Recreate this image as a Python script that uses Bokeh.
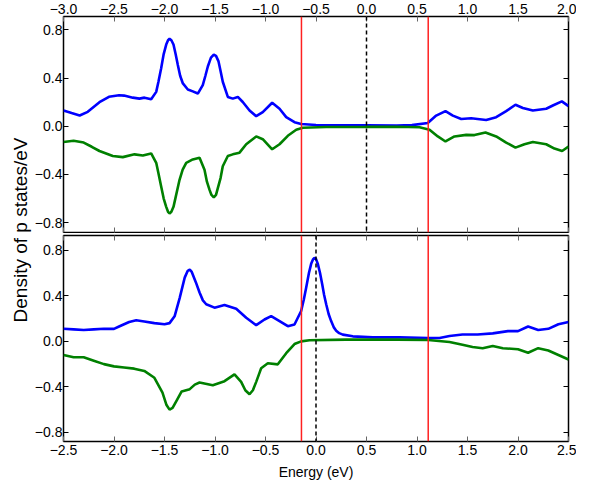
import numpy as np
from bokeh.plotting import figure
from bokeh.models import Range1d, LinearAxis, Span, CustomJSTickFormatter, FixedTicker, Div
from bokeh.layouts import row, column
from bokeh.embed import file_html
from bokeh.resources import INLINE

# ---------------- data ----------------
x_ticks_top = [-3.0, -2.5, -2.0, -1.5, -1.0, -0.5, 0.0, 0.5, 1.0, 1.5, 2.0]
x_ticks_bottom = [-2.5, -2.0, -1.5, -1.0, -0.5, 0.0, 0.5, 1.0, 1.5, 2.0, 2.5]
y_ticks = [-0.8, -0.4, 0.0, 0.4, 0.8]

top_fermi = 0.0
bottom_fermi = 0.0
top_gap_edges = [-0.644, 0.611]
bottom_gap_edges = [-0.144, 1.111]

y_label = "Density of p states/eV"
x_label = "Energy (eV)"

# top panel (energy on the top-axis scale)
top_up_x = [-3.00, -2.92, -2.84, -2.76, -2.644, -2.55, -2.45, -2.40, -2.314, -2.248, -2.198,
            -2.132, -2.082, -2.06, -2.033, -2.008, -1.983, -1.965, -1.950, -1.932, -1.911,
            -1.89, -1.868, -1.845, -1.818, -1.769, -1.720, -1.670, -1.621, -1.595, -1.571,
            -1.54, -1.512, -1.49, -1.465, -1.445, -1.423, -1.373, -1.324, -1.274, -1.225,
            -1.158, -1.092, -1.027, -0.934, -0.861, -0.795, -0.713, -0.647, -0.50, -0.30,
            0.0, 0.30, 0.45, 0.607, 0.690, 0.782, 0.855, 0.938, 1.036, 1.185, 1.284, 1.383,
            1.475, 1.548, 1.647, 1.779, 1.845, 1.934, 2.0]
top_up = [0.131, 0.11, 0.09, 0.12, 0.20, 0.245, 0.258, 0.255, 0.238, 0.23, 0.238,
          0.224, 0.286, 0.37, 0.482, 0.60, 0.679, 0.715, 0.727, 0.715, 0.679,
          0.60, 0.51, 0.42, 0.356, 0.306, 0.29, 0.272, 0.342, 0.42, 0.497,
          0.57, 0.595, 0.585, 0.539, 0.46, 0.37, 0.244, 0.23, 0.244, 0.202,
          0.131, 0.084, 0.118, 0.196, 0.146, 0.076, 0.034, 0.019, 0.011, 0.009,
          0.008, 0.007, 0.01, 0.028, 0.089, 0.126, 0.089, 0.061, 0.067, 0.053, 0.076, 0.126,
          0.179, 0.152, 0.131, 0.146, 0.173, 0.207, 0.168]

top_dn_x = [-3.00, -2.90, -2.80, -2.72, -2.644, -2.512, -2.413, -2.297, -2.215, -2.132, -2.082,
            -2.06, -2.033, -2.008, -1.983, -1.965, -1.950, -1.932, -1.911, -1.89, -1.851,
            -1.82, -1.785, -1.720, -1.653, -1.604, -1.58, -1.554, -1.535, -1.512, -1.49,
            -1.472, -1.445, -1.423, -1.373, -1.324, -1.257, -1.191, -1.092, -1.027, -0.934,
            -0.861, -0.779, -0.696, -0.630, -0.40, 0.0, 0.30, 0.525, 0.624, 0.706, 0.782,
            0.871, 0.987, 1.069, 1.178, 1.284, 1.383, 1.475, 1.564, 1.647, 1.779, 1.861,
            1.937, 2.0]
top_dn = [-0.13, -0.12, -0.135, -0.17, -0.205, -0.247, -0.256, -0.233, -0.242, -0.225, -0.303,
          -0.39, -0.50, -0.60, -0.669, -0.71, -0.724, -0.71, -0.669, -0.59, -0.444,
          -0.36, -0.303, -0.275, -0.261, -0.36, -0.46, -0.528, -0.57, -0.59, -0.57,
          -0.514, -0.43, -0.332, -0.247, -0.233, -0.219, -0.149, -0.084, -0.107, -0.191,
          -0.149, -0.079, -0.029, -0.012, -0.006, -0.005, -0.004, -0.008, -0.028, -0.084, -0.126,
          -0.084, -0.071, -0.073, -0.051, -0.084, -0.135, -0.177, -0.149, -0.13, -0.149, -0.185,
          -0.205, -0.168]

# bottom panel
bot_up_x = [-2.5, -2.4, -2.3, -2.2, -2.1, -2.0, -1.95, -1.85, -1.78, -1.7, -1.6, -1.5, -1.45,
            -1.40, -1.35, -1.30, -1.27, -1.25, -1.23, -1.19, -1.153, -1.12, -1.087, -1.005,
            -0.906, -0.790, -0.691, -0.592, -0.510, -0.444, -0.361, -0.279, -0.213, -0.147,
            -0.12, -0.097, -0.07, -0.048, -0.03, -0.015, 0.0, 0.018, 0.04, 0.061, 0.08, 0.101,
            0.125, 0.150, 0.175, 0.200, 0.23, 0.265, 0.364, 0.562, 0.827, 1.111, 1.223, 1.322,
            1.45, 1.6, 1.75, 1.9, 2.0, 2.1, 2.2, 2.3, 2.4, 2.5]
bot_up = [0.11, 0.105, 0.10, 0.105, 0.11, 0.11, 0.13, 0.17, 0.185, 0.175, 0.16, 0.15, 0.16,
          0.22, 0.38, 0.56, 0.62, 0.63, 0.61, 0.52, 0.429, 0.36, 0.326, 0.296,
          0.32, 0.287, 0.207, 0.142, 0.192, 0.222, 0.178, 0.133, 0.148, 0.267,
          0.37, 0.474, 0.60, 0.681, 0.72, 0.734, 0.725, 0.681, 0.60, 0.503, 0.41, 0.326,
          0.24, 0.178, 0.125, 0.094, 0.072, 0.059, 0.044, 0.035, 0.035, 0.03, 0.03, 0.047,
          0.06, 0.06, 0.07, 0.09, 0.09, 0.13, 0.10, 0.11, 0.15, 0.17]

bot_dn_x = [-2.5, -2.4, -2.3, -2.2, -2.1, -2.0, -1.9, -1.8, -1.7, -1.6, -1.52, -1.48, -1.45,
            -1.42, -1.38, -1.33, -1.25, -1.2, -1.153, -1.022, -0.906, -0.807, -0.741, -0.70,
            -0.658, -0.625, -0.592, -0.565, -0.543, -0.477, -0.378, -0.295, -0.213, -0.147,
            -0.065, 0.3, 0.8, 1.111, 1.322, 1.45, 1.55, 1.65, 1.75, 1.85, 2.0, 2.1, 2.2,
            2.3, 2.4, 2.5]
bot_dn = [-0.12, -0.14, -0.14, -0.17, -0.20, -0.22, -0.23, -0.24, -0.26, -0.32, -0.45, -0.56, -0.60,
          -0.585, -0.52, -0.44, -0.42, -0.38, -0.362, -0.385, -0.35, -0.29, -0.356, -0.43,
          -0.465, -0.43, -0.356, -0.29, -0.237, -0.193, -0.202, -0.104, -0.024, 0.0,
          0.009, 0.015, 0.015, 0.012, -0.006, -0.03, -0.05, -0.06, -0.04, -0.06, -0.07, -0.10, -0.06,
          -0.08, -0.12, -0.16]

# ---------------- styling ----------------
TICK_FONT = "Liberation Sans"
BLUE = "#0000ff"
GREEN = "#008000"
RED = "#ff2020"

FMT = CustomJSTickFormatter(code="const v = Math.abs(tick) < 1e-9 ? 0 : tick; return v.toFixed(1).replace('-', '\u2212');")


def make_axis(ticks, labelled, tick_color, standoff=2):
    ax = LinearAxis(ticker=FixedTicker(ticks=ticks))
    ax.axis_line_color = None
    ax.major_tick_in = 5
    ax.major_tick_out = 0
    ax.minor_tick_line_color = None
    ax.major_tick_line_color = tick_color
    ax.major_tick_line_width = 1
    if labelled:
        ax.formatter = FMT
        ax.major_label_text_font = TICK_FONT
        ax.major_label_text_font_size = "14px"
        ax.major_label_text_color = "black"
        ax.major_label_standoff = standoff
    else:
        ax.formatter = CustomJSTickFormatter(code="return '';")
        ax.major_label_text_font_size = "0px"
        ax.major_label_standoff = 0
    return ax


def make_panel(xr, yr, frame_h, xticks, top_labels, bottom_labels, min_top, min_bottom):
    p = figure(frame_width=505, frame_height=frame_h,
               x_range=Range1d(*xr), y_range=Range1d(*yr),
               x_axis_location=None, y_axis_location=None,
               toolbar_location=None, output_backend="svg",
               min_border_left=29, min_border_right=8,
               min_border_top=min_top, min_border_bottom=min_bottom)
    p.xgrid.visible = False
    p.ygrid.visible = False
    p.outline_line_color = "black"
    p.outline_line_width = 1.5
    p.background_fill_color = "white"
    p.border_fill_color = "white"
    p.add_layout(make_axis(xticks, top_labels, "#666666", standoff=3), "above")
    bax = make_axis(xticks, bottom_labels, "#666666", standoff=3)
    p.add_layout(bax, "below")
    p.add_layout(make_axis(y_ticks, True, "black", standoff=1), "left")
    p.add_layout(make_axis(y_ticks, False, "black"), "right")
    return p, bax


p_top, _ = make_panel((-3.0, 2.0), (-0.882, 0.912), 216, x_ticks_top, True, False, 0, 1)
p_top.line(top_up_x, top_up, line_color=BLUE, line_width=2.6)
p_top.line(top_dn_x, top_dn, line_color=GREEN, line_width=2.6)
for e in top_gap_edges:
    p_top.add_layout(Span(location=e, dimension="height", line_color=RED, line_width=1.5))
p_top.add_layout(Span(location=top_fermi, dimension="height", line_color="black",
                      line_width=1.5, line_dash="4 3"))

p_bot, bax = make_panel((-2.5, 2.5), (-0.88, 0.93), 206, x_ticks_bottom, False, True, 2, 0)
bax.axis_label = x_label
bax.axis_label_text_font = TICK_FONT
bax.axis_label_text_font_size = "14px"
bax.axis_label_text_font_style = "normal"
bax.axis_label_text_color = "black"
bax.axis_label_standoff = 6
p_bot.line(bot_up_x, bot_up, line_color=BLUE, line_width=2.6)
p_bot.line(bot_dn_x, bot_dn, line_color=GREEN, line_width=2.6)
for e in bottom_gap_edges:
    p_bot.add_layout(Span(location=e, dimension="height", line_color=RED, line_width=1.5))
p_bot.add_layout(Span(location=bottom_fermi, dimension="height", line_color="black",
                      line_width=1.5, line_dash="4 3"))

# rotated y-axis title shared by both panels
LAB_W = 31
LAB_H = 460
lab_html = (
    '<div style="position:relative;width:%dpx;height:%dpx;">'
    '<span style="position:absolute;left:21px;top:%dpx;transform:translate(-50%%,-50%%) rotate(-90deg);'
    'white-space:nowrap;font-family:\'Liberation Sans\';font-size:19px;color:black;line-height:normal;">'
    '%s</span></div>' % (LAB_W, LAB_H, LAB_H // 2, y_label)
)
lab = Div(text=lab_html, width=LAB_W, height=LAB_H, margin=0)

layout = row(lab, column(p_top, p_bot))

with open("out.html", "w") as f:
    f.write(file_html(layout, INLINE))
